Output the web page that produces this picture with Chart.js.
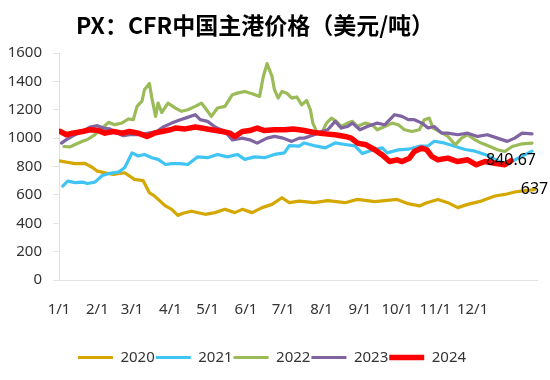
<!DOCTYPE html>
<html><head><meta charset="utf-8">
<script src="https://cdn.jsdelivr.net/npm/chart.js@4"></script>
<style>html,body{margin:0;padding:0;background:#fff}</style>
</head><body>
<canvas id="c" width="550" height="380"></canvas>
<script>
const titleText = 'PX：CFR中国主港价格（美元/吨）';
const years = ['2020','2021','2022','2023','2024'];
const colors = ['#D4A800','#40C4F4','#9BBB59','#8064A2','#FF0000'];
const widths = [3.2,3.2,3.2,3.2,5.5];
const monthDays = [0,31,59,90,120,151,181,212,243,273,304,334];
const monthLabels = ['1/1','2/1','3/1','4/1','5/1','6/1','7/1','8/1','9/1','10/1','11/1','12/1'];
const yTicks = [0,200,400,600,800,1000,1200,1400,1600];

const days2020 = [0,13,21,27,31,37,44,53,61,68,73,77,86,91,96,100,107,118,126,134,142,148,156,164,172,180,186,194,206,217,231,241,255,273,282,291,297,306,314,322,330,341,352,360,368,376,384];
const vals2020 = [840,820,822,793,767,755,744,756,709,700,615,593,522,498,455,470,485,463,475,498,475,498,475,510,533,580,545,556,545,559,545,568,552,568,538,522,545,568,545,510,533,556,592,603,620,630,637];

const days2021 = [3,7,13,19,23,29,35,41,48,53,59,64,69,75,80,86,91,98,104,112,120,128,136,144,150,158,166,174,182,186,194,198,207,215,223,231,239,245,253,261,265,274,282,291,298,303,311,319,328,336,344,352,358,366,374,382];
const vals2021 = [662,697,686,690,680,690,737,752,760,791,896,874,885,862,850,814,820,820,814,868,862,885,868,885,850,868,862,885,896,947,944,966,945,931,966,955,945,891,917,931,896,917,922,943,945,978,966,945,920,908,885,850,826,838,873,908];

const days2022 = [4,9,13,19,23,29,35,40,45,51,56,60,63,67,69,73,75,78,80,83,88,94,99,104,110,115,120,123,128,134,140,144,150,156,162,165,168,172,174,177,180,184,188,192,196,200,203,205,208,212,216,220,224,228,233,237,241,247,253,257,263,269,274,279,285,291,295,299,302,307,314,320,325,330,336,341,348,354,360,366,374,382];
const vals2022 = [941,938,955,978,990,1025,1072,1111,1095,1107,1135,1130,1224,1260,1341,1385,1282,1153,1247,1180,1247,1212,1189,1200,1224,1247,1189,1153,1212,1224,1306,1317,1329,1313,1294,1434,1525,1435,1341,1283,1329,1317,1282,1290,1235,1265,1200,1106,1047,1035,1106,1141,1118,1082,1106,1118,1082,1106,1094,1059,1082,1106,1094,1059,1047,1059,1130,1141,1071,1047,1012,953,1000,1024,988,965,941,918,906,941,960,965];

const days2023 = [2,6,13,19,25,31,36,41,47,52,57,64,72,79,84,91,98,102,110,114,120,126,134,140,148,154,160,168,174,181,188,194,198,206,212,217,223,228,233,237,243,249,257,263,271,277,282,287,293,298,303,309,314,322,330,338,346,354,362,368,374,382];
const vals2023 = [965,989,1024,1047,1078,1088,1071,1065,1036,1017,1024,1024,1036,1047,1078,1106,1130,1141,1165,1130,1118,1078,1047,988,1000,988,965,1000,1012,1000,977,1000,1000,1024,1047,1059,1118,1071,1082,1106,1059,1082,1106,1094,1165,1153,1130,1130,1106,1071,1082,1035,1035,1024,1035,1012,1024,1000,977,1000,1035,1030];

const days2024 = [1,6,11,19,25,32,37,44,51,57,64,71,77,83,90,94,102,110,115,123,132,138,142,148,154,160,166,174,182,189,194,198,206,215,223,231,236,241,248,255,261,267,273,277,283,287,293,297,301,306,314,322,330,337,344,352,360,365];
const vals2024 = [1047,1024,1035,1047,1059,1053,1035,1047,1035,1047,1035,1012,1035,1047,1059,1071,1065,1078,1071,1059,1047,1035,1012,1047,1053,1071,1053,1059,1059,1065,1059,1054,1040,1030,1024,1012,1000,965,953,918,882,835,847,835,859,906,930,918,871,847,859,835,847,812,835,823,812,840.67];

const allDays = [days2020,days2021,days2022,days2023,days2024];
const allVals = [vals2020,vals2021,vals2022,vals2023,vals2024];
const labeledSeries = [0,4];

const FONT = '"Noto Sans", sans-serif';
const TXT = '#333333';
const AXIS = '#e2e2e2';

const datasets = years.map((y,i)=>({
  label: y,
  data: allDays[i].map((d,j)=>({x:d, y:allVals[i][j]})),
  borderColor: colors[i],
  backgroundColor: colors[i],
  borderWidth: widths[i],
  pointRadius: 0,
  tension: 0,
  borderJoinStyle: 'round',
  borderCapStyle: 'round',
  order: years.length - i
}));

const titlePlugin = {
  id: 'titleText',
  afterDraw(chart){
    const ctx = chart.ctx;
    ctx.save();
    ctx.font = 'bold 23px "Noto Sans CJK SC"';
    ctx.fillStyle = '#000';
    ctx.textAlign = 'center';
    ctx.textBaseline = 'middle';
    ctx.fillText(titleText, 255, 25);
    ctx.restore();
  }
};

const endLabelPlugin = {
  id: 'endLabels',
  afterDatasetsDraw(chart){
    const ctx = chart.ctx;
    ctx.save();
    ctx.font = '16px ' + FONT;
    ctx.fillStyle = '#000';
    ctx.textAlign = 'center';
    ctx.textBaseline = 'middle';
    labeledSeries.forEach(i=>{
      const meta = chart.getDatasetMeta(i);
      const pt = meta.data[meta.data.length-1];
      const v = allVals[i][allVals[i].length-1];
      ctx.fillText(String(v), pt.x, pt.y);
    });
    ctx.restore();
  }
};

new Chart(document.getElementById('c'), {
  type: 'line',
  data: { datasets },
  plugins: [titlePlugin, endLabelPlugin],
  options: {
    responsive: false,
    animation: false,
    devicePixelRatio: 1,
    layout: { padding: { left: 7, right: 13, top: 53, bottom: 5 } },
    plugins: {
      legend: {
        position: 'bottom',
        labels: {
          usePointStyle: true,
          pointStyle: 'line',
          pointStyleWidth: 35,
          font: { size: 15, family: FONT },
          color: TXT,
          padding: 1,
          sort: (a,b)=>a.datasetIndex-b.datasetIndex
        }
      },
      tooltip: { enabled: false },
      title: { display: false }
    },
    scales: {
      x: {
        type: 'linear',
        min: 0,
        max: 386,
        grid: { display: false, drawTicks: false },
        border: { display: true, color: AXIS, width: 1 },
        ticks: {
          autoSkip: false,
          maxRotation: 0,
          padding: 21,
          font: { size: 15, family: FONT },
          color: TXT,
          callback: (v)=>{ const k = monthDays.indexOf(v); return k>=0 ? monthLabels[k] : ''; }
        },
        afterBuildTicks: (s)=>{ s.ticks = monthDays.map(v=>({value:v})); },
        afterFit: (s)=>{ s.height = 69; }
      },
      y: {
        min: 0,
        max: 1600,
        grid: { drawOnChartArea: false, drawTicks: true, tickLength: 6, color: AXIS },
        border: { display: true, color: AXIS, width: 1 },
        ticks: {
          padding: 11,
          font: { size: 15, family: FONT },
          color: TXT,
          callback: (v)=>String(v)
        },
        afterBuildTicks: (s)=>{ s.ticks = yTicks.map(v=>({value:v})); },
        afterFit: (s)=>{ s.width = 52; }
      }
    }
  }
});
</script>
</body></html>
